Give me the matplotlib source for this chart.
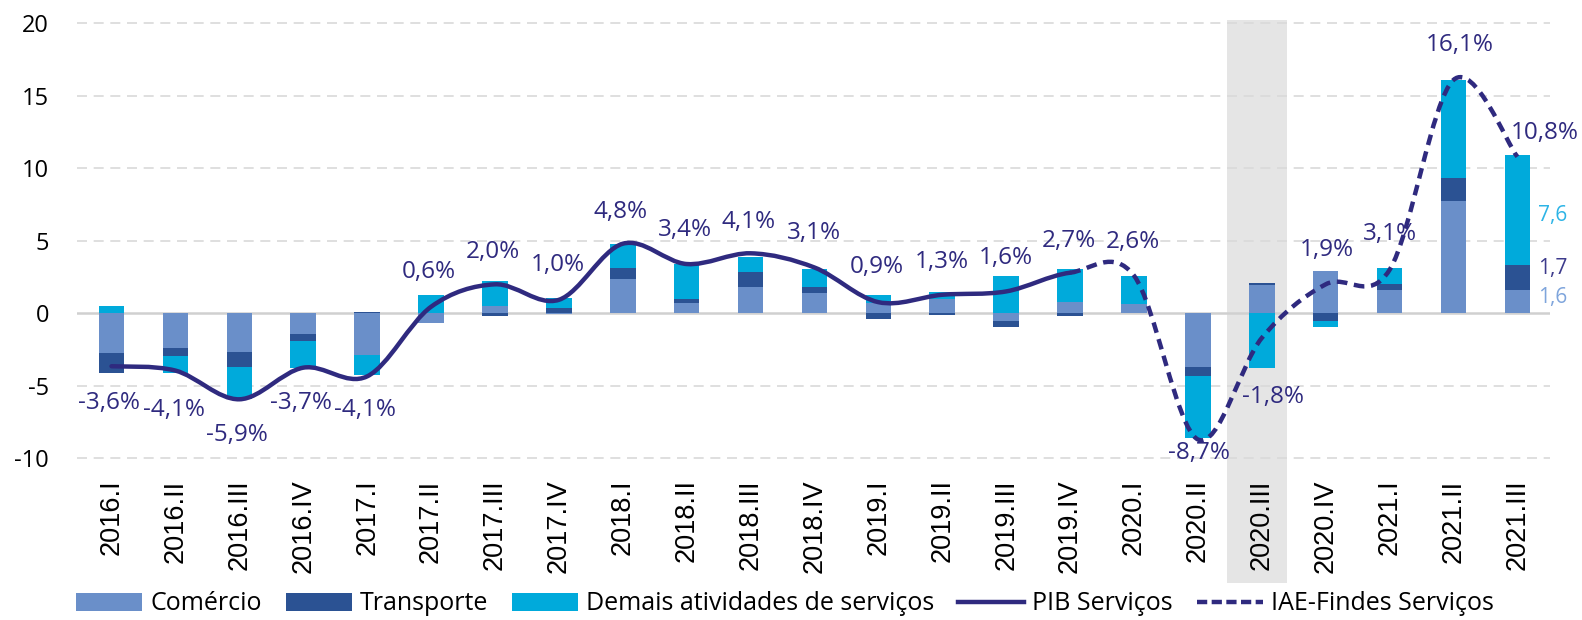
import numpy as np
import matplotlib
matplotlib.use("Agg")
import matplotlib.pyplot as plt
from matplotlib.path import Path
from matplotlib.patches import PathPatch, Rectangle
from matplotlib.lines import Line2D
import matplotlib.transforms as mtrans

# ---------------- data ----------------
categories = ["2016.I", "2016.II", "2016.III", "2016.IV",
              "2017.I", "2017.II", "2017.III", "2017.IV",
              "2018.I", "2018.II", "2018.III", "2018.IV",
              "2019.I", "2019.II", "2019.III", "2019.IV",
              "2020.I", "2020.II", "2020.III", "2020.IV",
              "2021.I", "2021.II", "2021.III"]

comercio = [-2.74, -2.42, -2.70, -1.44, -2.90, -0.65, 0.50, -0.05,
            2.35, 0.70, 1.79, 1.37, 0.70, 0.98, -0.51, 0.79,
            0.67, -3.72, 1.93, 2.92, 1.61, 7.77, 1.6]
transporte = [-1.37, -0.51, -1.00, -0.49, 0.10, 0.00, -0.20, 0.40,
              0.77, 0.28, 1.07, 0.44, -0.37, -0.14, -0.42, -0.20,
              0.00, -0.62, 0.16, -0.55, 0.44, 1.59, 1.7]
demais = [0.51, -1.16, -2.23, -1.81, -1.35, 1.25, 1.75, 0.65,
          1.65, 2.42, 1.05, 1.28, 0.58, 0.47, 2.56, 2.25,
          1.91, -4.28, -3.80, -0.37, 1.10, 6.71, 7.6]

# PIB Serviços (solid line), 2016.I .. 2019.IV
pib_servicos = [-3.65, -3.95, -5.93, -3.75, -4.35, 0.45, 2.0, 0.93,
                4.8, 3.4, 4.14, 3.16, 0.77, 1.28, 1.51, 2.8]
# IAE-Findes Serviços (dashed line), 2019.IV .. 2021.III
iae_findes = [2.8, 2.6, -8.7, -1.7, 2.0, 3.0, 16.1, 10.8]

# value labels (%)
total_labels = [-3.6, -4.1, -5.9, -3.7, -4.1, 0.6, 2.0, 1.0,
                4.8, 3.4, 4.1, 3.1, 0.9, 1.3, 1.6, 2.7,
                2.6, -8.7, -1.8, 1.9, 3.1, 16.1, 10.8]

series_names = ["Comércio", "Transporte", "Demais atividades de serviços"]
line_names = ["PIB Serviços", "IAE-Findes Serviços"]

# ---------------- styles / positions ----------------
label_dx = [-0.04, -0.02, -0.03, -0.04, -0.04, -0.03, -0.03, -0.02,
            -0.03, -0.02, -0.03, 0.0, -0.02, -0.01, 0.0, -0.02,
            -0.02, 0.01, 0.17, 0.02, 0.0, 0.10, 0.43]
label_dy = [-2.6, -2.57, -2.49, -2.5, -2.57, 2.27, 2.25, 2.33,
            2.21, 2.34, 2.22, 2.42, 2.27, 2.26, 2.19, 2.3,
            2.34, -0.93, -3.95, 2.47, 2.37, 2.38, 1.65]
side_dy = [0.32, 0.67, -0.32]

bar_colors = ["#6A8FC9", "#2B5293", "#00AADB"]
side_colors = ["#7FA5DC", "#3D3B8C", "#2DB4E6"]
line_color = "#2F2A7F"
label_color = "#2F2A7F"
grid_color = "#D9D9D9"
band_color = "#E5E5E5"

W, H = 1582, 620
fig = plt.figure(figsize=(W / 100, H / 100), dpi=100)
ax = fig.add_axes([77 / W, 1 - 467 / H, 1473 / W, 448 / H])

n = len(categories)
x = np.arange(n)
ax.set_xlim(-0.54, 22.51)
ax.set_ylim(-10.6, 20.3)

# highlighted quarter band (extends over tick labels)
trans = mtrans.blended_transform_factory(ax.transData, fig.transFigure)
hi = categories.index("2020.III")
band = Rectangle((hi - 0.55, 1 - 583 / H), 0.95, (583 - 20) / H,
                 transform=trans, facecolor=band_color, edgecolor="none",
                 zorder=0, clip_on=False)
ax.add_patch(band)

# grid
for yv in [-10, -5, 5, 10, 15, 20]:
    ax.axhline(yv, color=grid_color, lw=1.2, ls=(0, (6, 4)), zorder=0.5)
ax.axhline(0, color="#D0D0D0", lw=1.8, zorder=0.6)

# stacked bars
pos_base = np.zeros(n)
neg_base = np.zeros(n)
bar_handles = []
for vals, col, name in zip([comercio, transporte, demais], bar_colors, series_names):
    v = np.array(vals, dtype=float)
    bottom = np.where(v >= 0, pos_base, neg_base)
    h = ax.bar(x, v, bottom=bottom, width=0.4, color=col, label=name,
               zorder=2, edgecolor="none")
    bar_handles.append(h)
    pos_base = pos_base + np.where(v >= 0, v, 0)
    neg_base = neg_base + np.where(v < 0, v, 0)

# smooth lines (Catmull-Rom as cubic Bezier path)
line_y = np.array(pib_servicos + iae_findes[1:], dtype=float)
P = np.column_stack([x.astype(float), line_y])


def smooth_path(start, end):
    verts = [P[start]]
    codes = [Path.MOVETO]
    for i in range(start, end):
        pm = P[i - 1] if i > 0 else P[i]
        pp = P[i + 2] if i + 2 < len(P) else P[i + 1]
        c1 = P[i] + (P[i + 1] - pm) / 6.0
        c2 = P[i + 1] - (pp - P[i]) / 6.0
        verts += [c1, c2, P[i + 1]]
        codes += [Path.CURVE4] * 3
    return Path(np.array(verts), codes)


split = len(pib_servicos) - 1
ax.add_patch(PathPatch(smooth_path(0, split), fill=False, edgecolor=line_color,
                       lw=3.2, zorder=3, capstyle="round", joinstyle="round"))
ax.add_patch(PathPatch(smooth_path(split, n - 1), fill=False, edgecolor=line_color,
                       lw=3.2, ls=(0, (2.4, 1.5)), zorder=3, capstyle="butt"))

# value labels
for i, v in enumerate(total_labels):
    txt = f"{v:.1f}".replace(".", ",") + "%"
    ax.text(i + label_dx[i], v + label_dy[i], txt, ha="center", va="center",
            color=label_color, fontsize=17.5, family="Open Sans", zorder=5)

# side labels for the last quarter
last = n - 1
b = 0.0
for vals, col, dy in zip([comercio, transporte, demais], side_colors, side_dy):
    v = vals[last]
    ax.text(last + 0.32, b + v / 2 + dy, f"{v:.1f}".replace(".", ","),
            ha="left", va="center", color=col, fontsize=15, family="Open Sans",
            zorder=5)
    b += v

# axes styling
for s in ax.spines.values():
    s.set_visible(False)
ax.set_yticks([-10, -5, 0, 5, 10, 15, 20])
ax.set_yticklabels(["-10", "-5", "0", "5", "10", "15", "20"],
                   family="Open Sans", fontsize=17)
ax.set_xticks(x)
ax.set_xticklabels(categories, rotation=90, family="Liberation Sans", fontsize=19.5)
ax.tick_params(axis="y", length=0, pad=20)
ax.tick_params(axis="x", length=0, pad=9)

# legend
handles = bar_handles + [
    Line2D([], [], color=line_color, lw=3.2),
    Line2D([], [], color=line_color, lw=3.2, ls=(0, (2.3, 1.0)), dash_capstyle="butt"),
]
labels = series_names + line_names
fig.legend(handles, labels, loc="center left", ncol=5,
           bbox_to_anchor=(76 / W, 1 - 604 / H), bbox_transform=fig.transFigure,
           frameon=False, prop={"family": "Open Sans", "size": 18},
           handlelength=2.65, handleheight=0.72, handletextpad=0.32,
           columnspacing=0.95, borderpad=0, borderaxespad=0)

fig.savefig("out.png", dpi=100)
